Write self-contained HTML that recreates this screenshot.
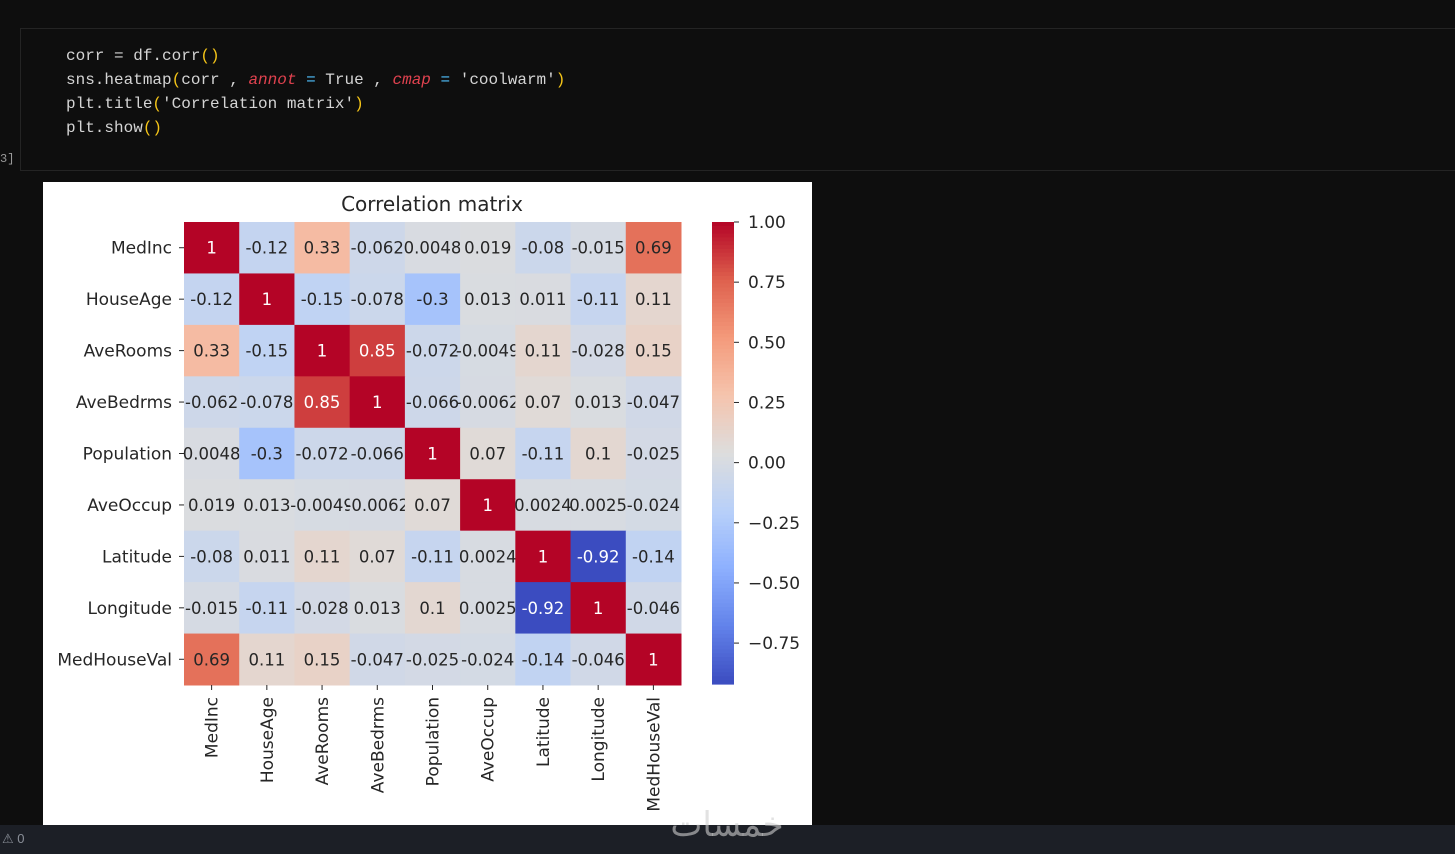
<!DOCTYPE html>
<html><head><meta charset="utf-8"><style>
html,body{margin:0;padding:0;background:#0e0e0e;width:1455px;height:854px;overflow:hidden}
svg{display:block}
.code{font-family:"Liberation Mono","DejaVu Sans Mono",monospace;font-size:16px;fill:#d4d4d4}
.t{font-family:"DejaVu Sans","Liberation Sans",sans-serif;fill:#262626}
</style></head><body>
<svg width="1455" height="854" xmlns="http://www.w3.org/2000/svg">
<rect x="0" y="0" width="1455" height="854" fill="#0e0e0e"/>
<rect x="20.5" y="28.5" width="1440" height="142" fill="#0e0e0e" stroke="#242424"/>
<g class="code">
<text x="66" y="60">corr = df.corr<tspan fill="#f5c518">()</tspan></text>
<text x="66" y="84">sns.heatmap<tspan fill="#f5c518">(</tspan>corr , <tspan fill="#e0424f" font-style="italic">annot</tspan> <tspan fill="#4fc1ff">=</tspan> True , <tspan fill="#e0424f" font-style="italic">cmap</tspan> <tspan fill="#4fc1ff">=</tspan> 'coolwarm'<tspan fill="#f5c518">)</tspan></text>
<text x="66" y="108">plt.title<tspan fill="#f5c518">(</tspan>'Correlation matrix'<tspan fill="#f5c518">)</tspan></text>
<text x="66" y="132">plt.show<tspan fill="#f5c518">()</tspan></text>
</g>
<text x="0" y="162" font-family="Liberation Mono,monospace" font-size="12" fill="#9a9a9a">3]</text>
<rect x="43" y="182" width="769" height="643" fill="#ffffff"/>
<text class="t" x="432" y="211" font-size="20" text-anchor="middle">Correlation matrix</text>
<g id="hm"></g>
<g id="cb"></g>
<rect x="0" y="825" width="1455" height="29" fill="#1c1f26"/>
<text x="2" y="843" font-family="Liberation Sans,sans-serif" font-size="13" fill="#8a8f98">⚠ 0</text>
<text x="727" y="836" font-family="DejaVu Sans,sans-serif" font-size="34" fill="#cfcfcf" fill-opacity="0.6" text-anchor="middle">خمسات</text>
</svg>
<script>
const labels=["MedInc","HouseAge","AveRooms","AveBedrms","Population","AveOccup","Latitude","Longitude","MedHouseVal"];
const row0=[1,-0.12,0.33,-0.062,0.0048,0.019,-0.08,-0.015,0.69];
const row1=[-0.12,1,-0.15,-0.078,-0.3,0.013,0.011,-0.11,0.11];
const row2=[0.33,-0.15,1,0.85,-0.072,-0.0049,0.11,-0.028,0.15];
const row3=[-0.062,-0.078,0.85,1,-0.066,-0.0062,0.07,0.013,-0.047];
const row4=[0.0048,-0.3,-0.072,-0.066,1,0.07,-0.11,0.1,-0.025];
const row5=[0.019,0.013,-0.0049,-0.0062,0.07,1,0.0024,0.0025,-0.024];
const row6=[-0.08,0.011,0.11,0.07,-0.11,0.0024,1,-0.92,-0.14];
const row7=[-0.015,-0.11,-0.028,0.013,0.1,0.0025,-0.92,1,-0.046];
const row8=[0.69,0.11,0.15,-0.047,-0.025,-0.024,-0.14,-0.046,1];
const matrix=[row0,row1,row2,row3,row4,row5,row6,row7,row8];
const cbTicks=[1.00,0.75,0.50,0.25,0.00,-0.25,-0.50,-0.75];
const cbTickLabels=["1.00","0.75","0.50","0.25","0.00","\u22120.25","\u22120.50","\u22120.75"];

const NS="http://www.w3.org/2000/svg";
const X0=184,Y0=222,W=497,H=463;
let vmin=Infinity,vmax=-Infinity;
matrix.forEach(r=>r.forEach(v=>{vmin=Math.min(vmin,v);vmax=Math.max(vmax,v);}));
const cw=W/labels.length,ch=H/labels.length;
const xPos=i=>X0+i*cw, yPos=i=>Y0+i*ch;
const stops=[[59,76,192],[98,130,234],[141,176,254],[184,208,249],[221,221,221],[245,196,173],[244,154,123],[222,96,77],[180,4,38]];
function cmap(v){let t=(v-vmin)/(vmax-vmin);t=Math.max(0,Math.min(1,t));const p=t*8,i=Math.min(7,Math.floor(p)),f=p-i;const a=stops[i],b=stops[i+1];return a.map((c,k)=>Math.round(c+(b[k]-c)*f));}
function mk(tag,attrs,parent){const e=document.createElementNS(NS,tag);for(const k in attrs)e.setAttribute(k,attrs[k]);parent.appendChild(e);return e;}
const hm=document.getElementById('hm');
matrix.forEach((r,i)=>r.forEach((v,j)=>{
  const c=cmap(v);
  const rect=mk('rect',{x:xPos(j),y:yPos(i),width:cw+0.5,height:ch+0.5,fill:`rgb(${c})`},hm);
  
  
  const lum=(0.2126*c[0]+0.7152*c[1]+0.0722*c[2])/255;
  const tx=mk('text',{x:xPos(j)+cw/2,y:yPos(i)+ch/2+6,'text-anchor':'middle','font-size':'16.5',class:'t'},hm);
  if(lum<0.45)tx.style.fill='#fff';
  tx.textContent=String(v);
  
  
}));
labels.forEach((l,i)=>{
  const cy=yPos(i)+ch/2;
  mk('line',{x1:X0-5,x2:X0,y1:cy,y2:cy,stroke:'#262626','stroke-width':1},hm);
  const t=mk('text',{x:X0-12,y:cy+6,'text-anchor':'end','font-size':'17',class:'t'},hm);
  t.textContent=l;
  
  
  const cx=xPos(i)+cw/2;
  mk('line',{x1:cx,x2:cx,y1:Y0+H,y2:Y0+H+5,stroke:'#262626','stroke-width':1},hm);
  const t2=mk('text',{x:0,y:0,'text-anchor':'end','font-size':'17',class:'t',transform:`translate(${cx+6},${Y0+H+12}) rotate(-90)`},hm);
  t2.textContent=l;
  
  
});
const cb=document.getElementById('cb');
const CBX=712,CBW=22,CBY=222,CBH=462;
const cbY=v=>CBY+(vmax-v)/(vmax-vmin)*CBH;
const N=120;
for(let k=0;k<N;k++){
  const v1=vmax-(k/N)*(vmax-vmin),v=vmax-((k+0.5)/N)*(vmax-vmin);
  mk('rect',{x:CBX,y:cbY(v1),width:CBW,height:CBH/N+0.6,fill:`rgb(${cmap(v)})`},cb);
}
cbTicks.forEach((v,i)=>{
  const y=cbY(v);
  mk('line',{x1:CBX+CBW,x2:CBX+CBW+5,y1:y,y2:y,stroke:'#262626'},cb);
  const t=mk('text',{x:CBX+CBW+14,y:y+6,'font-size':'17',class:'t'},cb);
  t.textContent=cbTickLabels[i];
  
  
});
</script>
</body></html>
